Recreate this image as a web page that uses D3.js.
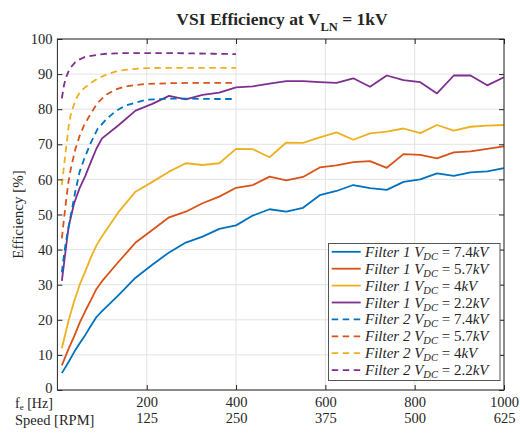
<!DOCTYPE html>
<html><head><meta charset="utf-8">
<script src="https://cdn.jsdelivr.net/npm/d3@7"></script>
<style>
body{margin:0;background:#fff;}
svg{display:block;}
text{font-family:"Liberation Serif","Times New Roman",serif;fill:#262626;}
</style></head>
<body>
<svg id="chart" width="520" height="436"></svg>
<script>
// ---------- data ----------
const freq1 = [10, 25, 37.5, 50, 62.5, 75, 87.5, 100, 137.5, 175, 212.5, 250, 287.5, 325, 362.5, 400,
  437.5, 475, 512.5, 550, 587.5, 625, 662.5, 700, 737.5, 775, 812.5, 850, 887.5, 925, 962.5, 1000];
const filter1_74 = [4.8, 8.0, 10.8, 13.3, 15.7, 18.3, 20.8, 22.5, 27.1, 32.0, 35.7, 39.2, 42.0, 43.7, 45.9, 46.9,
  49.7, 51.5, 50.8, 51.9, 55.5, 56.7, 58.4, 57.5, 57.0, 59.3, 60.0, 61.7, 61.0, 62.0, 62.3, 63.2];
const filter1_57 = [7.0, 11.7, 15.3, 19.2, 22.5, 25.6, 28.8, 31.0, 36.6, 42.0, 45.6, 49.2, 50.8, 53.2, 55.1, 57.6,
  58.4, 60.8, 59.7, 60.7, 63.4, 64.0, 64.9, 65.2, 63.3, 67.2, 67.0, 66.0, 67.7, 68.0, 68.7, 69.4];
const filter1_4 = [11.9, 19.8, 25.3, 30.0, 33.8, 37.8, 41.2, 43.8, 50.8, 56.5, 59.3, 62.2, 64.6, 64.1, 64.6, 68.7,
  68.6, 66.3, 70.5, 70.4, 72.0, 73.4, 71.3, 73.1, 73.6, 74.5, 73.2, 75.5, 73.9, 75.0, 75.3, 75.5];
const filter1_22 = [31.1, 46.5, 53.2, 57.6, 61.0, 65.0, 68.8, 71.7, 75.5, 79.6, 81.5, 83.8, 82.8, 84.1, 84.7, 86.2,
  86.5, 87.3, 88.0, 88.0, 87.7, 87.5, 88.8, 86.4, 89.6, 88.3, 87.7, 84.5, 89.6, 89.6, 86.8, 89.1];

const freq2 = [10, 15, 20, 25, 30, 40, 50, 60, 75, 90, 110, 130, 150, 175, 200, 250, 300, 350, 400];
const filter2_74 = [33.5, 38.8, 42.9, 46.3, 49.7, 56.5, 62.3, 65.8, 70.5, 74.4, 77.2, 79.4, 80.9, 81.9, 82.7, 83.0, 83.0, 82.9, 82.9];
const filter2_57 = [43.2, 49.0, 54.5, 59.5, 63.0, 68.5, 72.5, 75.5, 78.8, 81.8, 84.2, 85.6, 86.4, 86.9, 87.2, 87.4, 87.5, 87.5, 87.5];
const filter2_4 = [58.4, 64.0, 69.5, 75.0, 78.5, 82.5, 84.8, 86.0, 87.5, 88.7, 89.9, 90.7, 91.2, 91.5, 91.7, 91.8, 91.8, 91.8, 91.8];
const filter2_22 = [83.1, 87.0, 89.3, 90.8, 91.9, 93.4, 94.2, 94.8, 95.2, 95.5, 95.8, 95.9, 96.0, 96.0, 96.0, 96.0, 95.9, 95.8, 95.7];

const voltages = ["7.4", "5.7", "4", "2.2"];
const filterNames = ["Filter 1", "Filter 2"];
const colors = ["#0072BD", "#D95319", "#EDB120", "#7E2F8E"];
const xTicks = [200, 400, 600, 800, 1000];
const rpmTicks = [125, 250, 375, 500, 625];
const yTicks = [0, 10, 20, 30, 40, 50, 60, 70, 80, 90, 100];

// ---------- build series ----------
const series = [];
[filter1_74, filter1_57, filter1_4, filter1_22].forEach((v, i) =>
  series.push({filter: 0, volt: voltages[i], color: colors[i], pts: freq1.map((f, j) => [f, v[j]])}));
[filter2_74, filter2_57, filter2_4, filter2_22].forEach((v, i) =>
  series.push({filter: 1, volt: voltages[i], color: colors[i], pts: freq2.map((f, j) => [f, v[j]])}));

// ---------- layout ----------
const svg = d3.select("#chart");
const L = 57.4, R = 504, T = 39, B = 390;
const x = d3.scaleLinear().domain([0, 1000]).range([L, R]);
const y = d3.scaleLinear().domain([0, 100]).range([B, T]);
const axisColor = "#262626";
const fontSize = 14.5;
const fmt = d3.format("d");

// grid
const grid = svg.append("g");
grid.selectAll("line.gx").data(xTicks).join("line")
  .attr("x1", d => x(d)).attr("x2", d => x(d)).attr("y1", T).attr("y2", B)
  .attr("stroke", "#e3e3e3").attr("stroke-width", 1);
grid.selectAll("line.gy").data(yTicks).join("line")
  .attr("x1", L).attr("x2", R).attr("y1", d => y(d)).attr("y2", d => y(d))
  .attr("stroke", "#e3e3e3").attr("stroke-width", 1);

// lines
const line = d3.line().x(d => x(d[0])).y(d => y(d[1]));
svg.append("g").selectAll("path").data(series).join("path")
  .attr("d", d => line(d.pts))
  .attr("fill", "none")
  .attr("stroke", d => d.color)
  .attr("stroke-width", 1.8)
  .attr("stroke-linejoin", "round")
  .attr("stroke-dasharray", d => d.filter === 1 ? "6.5,4.5" : null);

// axes
function styleAxis(g) {
  g.attr("font-family", null).attr("font-size", null);
  g.select(".domain").remove();
  g.selectAll(".tick line").attr("stroke", axisColor);
  g.selectAll(".tick text").attr("fill", axisColor)
    .style("font-size", fontSize + "px")
    .style("font-family", '"Liberation Serif","Times New Roman",serif');
}
svg.append("g").attr("transform", `translate(0,${B})`)
  .call(d3.axisBottom(x).tickValues(xTicks).tickSizeInner(-5).tickSizeOuter(0).tickPadding(6.5).tickFormat(fmt))
  .call(styleAxis);
svg.append("g").attr("transform", `translate(0,${B})`)
  .call(d3.axisBottom(x).tickValues(xTicks).tickSize(0).tickPadding(23)
    .tickFormat((d, i) => rpmTicks[i]))
  .call(styleAxis);
svg.append("g").attr("transform", `translate(0,${T})`)
  .call(d3.axisTop(x).tickValues(xTicks).tickSizeInner(-5).tickSizeOuter(0).tickFormat(""))
  .call(styleAxis);
const yAx = svg.append("g").attr("transform", `translate(${L},0)`)
  .call(d3.axisLeft(y).tickValues(yTicks).tickSizeInner(-5).tickSizeOuter(0).tickPadding(5).tickFormat(fmt))
  .call(styleAxis);
yAx.selectAll(".tick text").filter(d => d === 0).attr("dy", "0.2em");
svg.append("g").attr("transform", `translate(${R},0)`)
  .call(d3.axisRight(y).tickValues(yTicks).tickSizeInner(-5).tickSizeOuter(0).tickFormat(""))
  .call(styleAxis);

// box
svg.append("rect").attr("x", L).attr("y", T).attr("width", R - L).attr("height", B - T)
  .attr("fill", "none").attr("stroke", axisColor).attr("stroke-width", 1);

// axis row labels
const fl = svg.append("text").attr("x", 15).attr("y", 407.5).style("font-size", "14px");
fl.append("tspan").text("f");
fl.append("tspan").attr("dy", 2.5).style("font-size", "9px").text("e");
fl.append("tspan").attr("dy", -2.5).text(" [Hz]");
svg.append("text").attr("x", 15).attr("y", 424.5).style("font-size", fontSize + "px").text("Speed [RPM]");

// y label
svg.append("text").attr("transform", `translate(23,${(T + B) / 2}) rotate(-90)`)
  .attr("text-anchor", "middle").style("font-size", "15px").text("Efficiency [%]");

// title
const tt = svg.append("text").attr("x", 282).attr("y", 25).attr("text-anchor", "middle")
  .style("font-size", "17.5px").style("font-weight", "bold").attr("fill", "#000");
tt.append("tspan").text("VSI Efficiency at V");
tt.append("tspan").attr("dy", 6).style("font-size", "12.5px").text("LN");
tt.append("tspan").attr("dy", -6).text(" = 1kV");

// legend
const lg = svg.append("g");
const lx = 328.5, ly = 243.5, lw = 171.5, lh = 137;
lg.append("rect").attr("x", lx).attr("y", ly).attr("width", lw).attr("height", lh)
  .attr("fill", "#fff").attr("stroke", "#555").attr("stroke-width", 1);
const rowH = 16.9, row0 = 251.8;
series.forEach((s, i) => {
  const cy = row0 + i * rowH;
  lg.append("line").attr("x1", 331.7).attr("x2", 360.7).attr("y1", cy).attr("y2", cy)
    .attr("stroke", s.color).attr("stroke-width", 1.8)
    .attr("stroke-dasharray", s.filter === 1 ? "6.5,4.5" : null);
  const t = lg.append("text").attr("x", 365).attr("y", cy + 5).style("font-size", "15px")
    .attr("fill", "#000");
  t.append("tspan").style("font-style", "italic").text(filterNames[s.filter] + " ");
  t.append("tspan").style("font-style", "italic").text("V");
  t.append("tspan").attr("dy", 3).style("font-style", "italic").style("font-size", "10.5px").text("DC");
  t.append("tspan").attr("dy", -3).text(" = " + s.volt);
  t.append("tspan").style("font-style", "italic").text("kV");
});
</script>
</body></html>
